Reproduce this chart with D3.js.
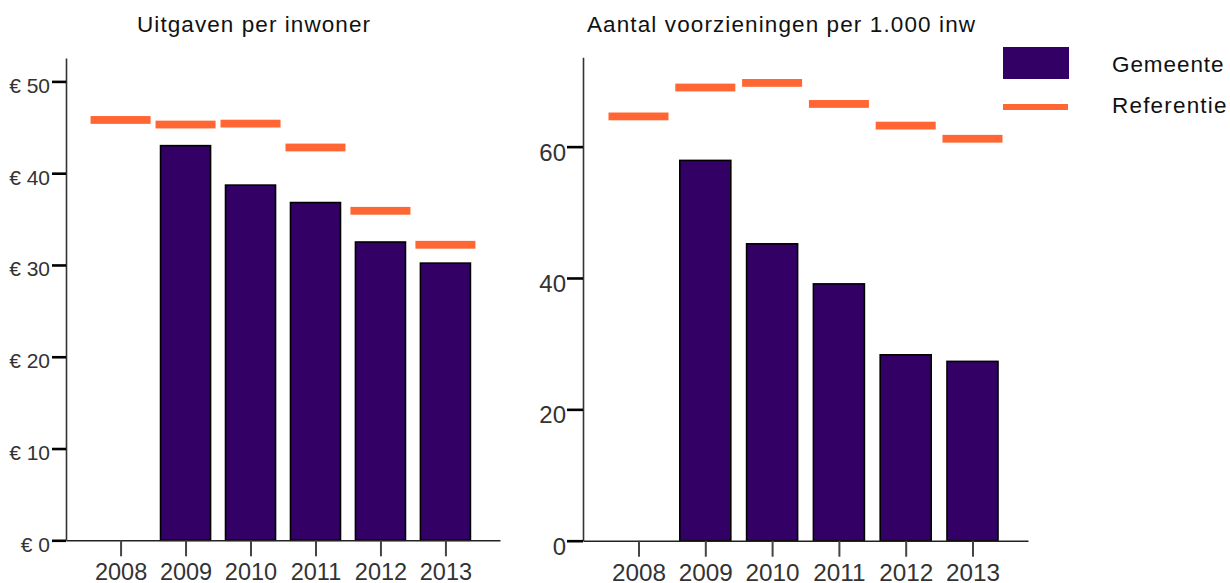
<!DOCTYPE html>
<html>
<head>
<meta charset="utf-8">
<script src="https://cdn.jsdelivr.net/npm/d3@7"></script>
<style>
  html, body { margin: 0; padding: 0; background: #fff; }
  svg { display: block; }
  text { font-family: "Liberation Sans", Arial, sans-serif; }
</style>
</head>
<body>
<svg id="chart" width="1230" height="583"></svg>
<script>
const years = ["2008", "2009", "2010", "2011", "2012", "2013"];
const uitgavenGemeente = [null, 43.0, 38.7, 36.8, 32.5, 30.2];
const uitgavenReferentie = [45.8, 45.3, 45.4, 42.8, 35.9, 32.2];
const voorzieningenGemeente = [null, 57.9, 45.2, 39.1, 28.3, 27.3];
const voorzieningenReferentie = [64.6, 69.0, 69.7, 66.5, 63.2, 61.2];
const uitgavenTicks = [0, 10, 20, 30, 40, 50];
const voorzieningenTicks = [0, 20, 40, 60];
const titles = ["Uitgaven per inwoner", "Aantal voorzieningen per 1.000 inw"];
const legendLabels = ["Gemeente", "Referentie"];

const PURPLE = "#330066";
const ORANGE = "#ff6633";

const svg = d3.select("#chart");

function panel(cfg) {
  const g = svg.append("g");
  const x = d3.scalePoint().domain(years).range([cfg.x0, cfg.x1]).padding(cfg.pad);
  const y = d3.scaleLinear().domain([0, cfg.ymax]).range([cfg.y0, cfg.ytop]);

  // title
  g.append("text")
    .attr("x", cfg.titleX).attr("y", 31.5)
    .attr("font-size", 22.5).attr("fill", "#111")
    .attr("textLength", cfg.titleW).attr("lengthAdjust", "spacing")
    .text(cfg.title);

  // bars
  const gem = years.map((d, i) => ({ year: d, v: cfg.gem[i] })).filter(d => d.v != null);
  g.append("g").selectAll("rect").data(gem).join("rect")
    .attr("x", d => x(d.year) - cfg.barW / 2)
    .attr("y", d => y(d.v))
    .attr("width", cfg.barW)
    .attr("height", d => y(0) - y(d.v))
    .attr("fill", PURPLE)
    .attr("stroke", "#000").attr("stroke-width", 1.6);

  // reference lines
  const ref = years.map((d, i) => ({ year: d, v: cfg.ref[i] }));
  g.append("g").selectAll("rect").data(ref).join("rect")
    .attr("x", d => x(d.year) - 30)
    .attr("y", d => y(d.v) - 3.9)
    .attr("width", 60)
    .attr("height", 7.8)
    .attr("fill", ORANGE);

  // y axis
  const ya = g.append("g").attr("transform", `translate(${cfg.x0},0)`)
    .call(d3.axisLeft(y).tickValues(cfg.ticks).tickSize(cfg.yTick).tickSizeOuter(0)
      .tickPadding(cfg.yPad).tickFormat(cfg.fmt));
  ya.select(".domain").attr("stroke", "#333").attr("stroke-width", 1.6);
  ya.selectAll(".tick line").attr("stroke", "#000").attr("stroke-width", 2.6);
  ya.selectAll(".tick text").attr("dy", cfg.yDy).attr("font-size", cfg.yFont)
    .attr("fill", "#333").attr("font-family", '"Liberation Sans", Arial, sans-serif');

  // x axis
  const xa = g.append("g").attr("transform", `translate(0,${cfg.y0})`)
    .call(d3.axisBottom(x).tickSize(16).tickSizeOuter(0).tickPadding(0));
  xa.select(".domain").attr("stroke", "#222").attr("stroke-width", 1.6);
  xa.selectAll(".tick line").attr("stroke", "#444").attr("stroke-width", 2);
  xa.selectAll(".tick text").attr("y", cfg.xLabY).attr("dy", 0).attr("font-size", cfg.xFont)
    .attr("fill", "#333").attr("font-family", '"Liberation Sans", Arial, sans-serif');
}

panel({
  x0: 66, x1: 500, pad: 0.84, y0: 540.3, ytop: 58, ymax: 52.55,
  gem: uitgavenGemeente, ref: uitgavenReferentie, ticks: uitgavenTicks,
  fmt: d => "€ " + d, barW: 50, yTick: 14, yPad: 2, yDy: 11, yFont: 21,
  xLabY: 39.5, xFont: 23.5,
  title: titles[0], titleX: 137, titleW: 233
});

panel({
  x0: 583, x1: 1028, pad: 0.831, y0: 540.7, ytop: 57.3, ymax: 73.6,
  gem: voorzieningenGemeente, ref: voorzieningenReferentie, ticks: voorzieningenTicks,
  fmt: d => String(d), barW: 51, yTick: 16, yPad: 1, yDy: 13.5, yFont: 24,
  xLabY: 40, xFont: 24.3,
  title: titles[1], titleX: 587, titleW: 388
});

// legend
const lg = svg.append("g");
lg.append("rect").attr("x", 1003).attr("y", 47).attr("width", 66).attr("height", 32).attr("fill", PURPLE);
lg.append("rect").attr("x", 1003).attr("y", 104).attr("width", 65).attr("height", 6).attr("fill", ORANGE);
lg.selectAll("text").data(legendLabels).join("text")
  .attr("x", 1112)
  .attr("y", (d, i) => i === 0 ? 72.3 : 113)
  .attr("font-size", 22.5).attr("fill", "#111")
  .attr("textLength", (d, i) => i === 0 ? 111.5 : 114.5).attr("lengthAdjust", "spacing")
  .text(d => d);
</script>
</body>
</html>
